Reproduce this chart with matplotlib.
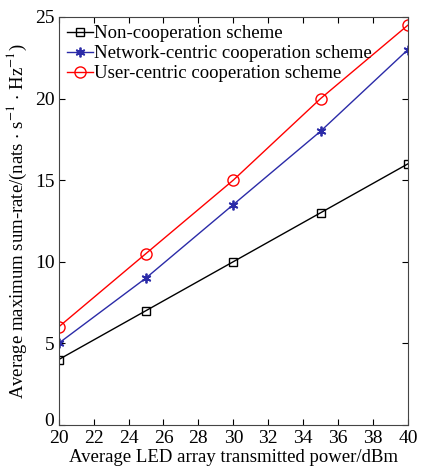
import numpy as np
import matplotlib
matplotlib.use("Agg")
import matplotlib.pyplot as plt
import matplotlib.transforms as mtransforms

plt.rcParams['font.family'] = ['Liberation Serif', 'DejaVu Serif']
plt.rcParams['mathtext.fontset'] = 'stix'

power = [20, 25, 30, 35, 40]
non_coop = [4, 7, 10, 13, 16]
network_centric = [5, 9, 13.5, 18, 23]
user_centric = [6, 10.5, 15, 20, 24.5]

fig = plt.figure(figsize=(4.25, 4.7), dpi=100)
ax = fig.add_axes([0.138, 0.096, 0.822, 0.868])

ax.plot(power, non_coop, color='black', lw=1, marker='s', ms=6, mfc='none', mew=1, label='Non-cooperation scheme')
ax.plot(power, network_centric, color='#2b2ba8', lw=1, marker=(6, 2, 0), ms=7, mew=1.3, label='Network-centric cooperation scheme')
ax.plot(power, user_centric, color='red', lw=1, marker='o', ms=8, mfc='none', mew=1, label='User-centric cooperation scheme')

ax.set_xlim(20, 40)
ax.set_ylim(0, 25)
ax.set_xticks(np.arange(20, 41, 2))
ax.set_yticks(np.arange(0, 26, 5))
ax.tick_params(direction='in', top=True, right=True, labelsize=14, length=4)
ax.tick_params(axis='x', pad=4)
ax.tick_params(axis='y', pad=3)
for s in ax.spines.values():
    s.set_color('#444444')

# nudge the "0" on the y axis up a little so it clears the "20" below it
zero_lbl = ax.get_yticklabels()[0]
zero_lbl.set_transform(zero_lbl.get_transform() + mtransforms.ScaledTranslation(0, 4 / 72, fig.dpi_scale_trans))

ax.set_xlabel('Average LED array transmitted power/dBm', fontsize=13.5, labelpad=1)
ax.set_ylabel('Average maximum sum-rate/(nats $\\cdot$ s$^{-1}$ $\\cdot$ Hz$^{-1}$)', fontsize=13.5, labelpad=4)

ax.legend(loc='upper left', frameon=False, fontsize=13.5, handlelength=1.4, handletextpad=0.05,
          borderaxespad=0.2, labelspacing=0.15, borderpad=0.25)

fig.savefig('out.png', dpi=100)
